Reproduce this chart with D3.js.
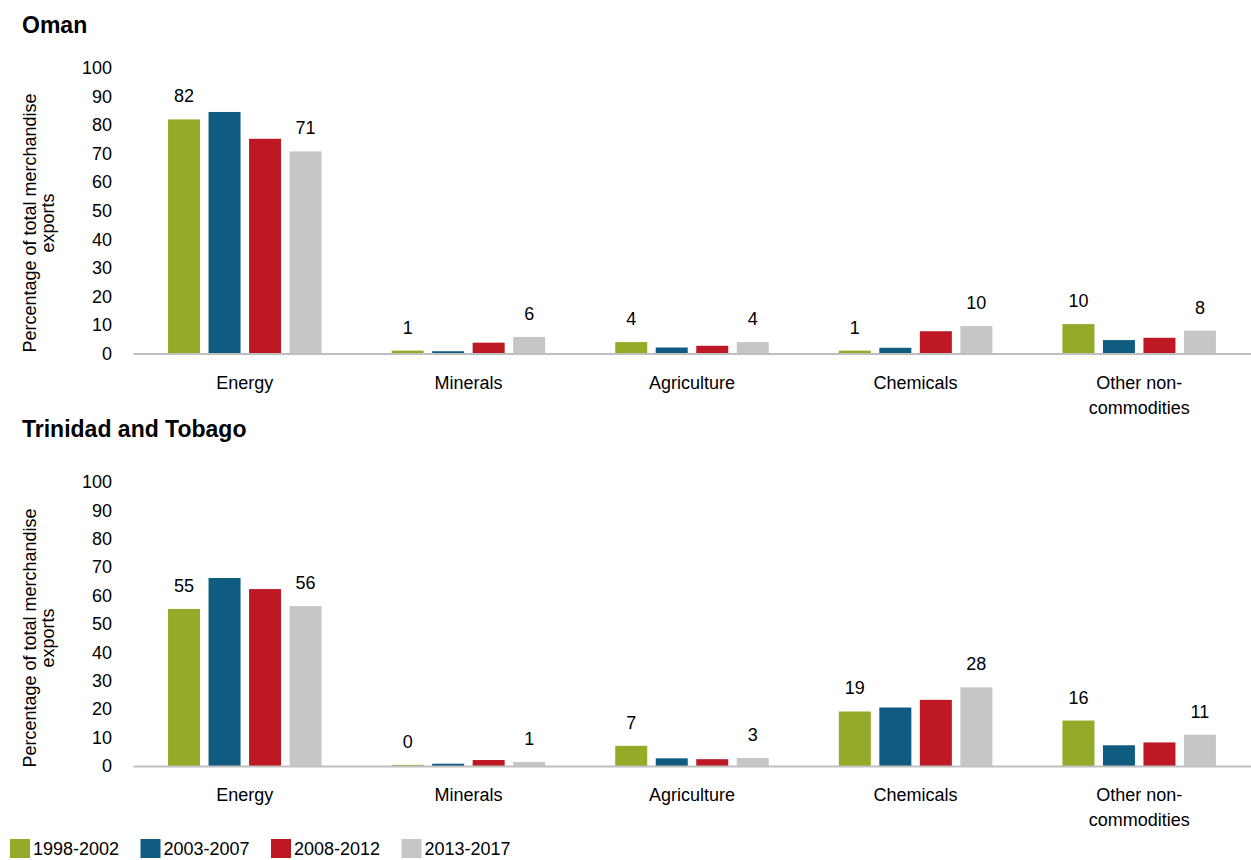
<!DOCTYPE html>
<html><head><meta charset="utf-8">
<script src="https://cdn.jsdelivr.net/npm/d3@7"></script>
<style>
body{margin:0;background:#fff;}
svg{font-family:"Liberation Sans Narrow","Arial Narrow","Liberation Sans",sans-serif;}
</style></head>
<body><svg id="c" width="1251" height="860"></svg>
<script>
const categories = ["Energy","Minerals","Agriculture","Chemicals","Other non-commodities"];
const categoryLines = [["Energy"],["Minerals"],["Agriculture"],["Chemicals"],["Other non-","commodities"]];
const series = ["1998-2002","2003-2007","2008-2012","2013-2017"];
const colors = ["#93ab28","#0f5c80","#be1824","#c6c6c6"];
const yTicks = [0,10,20,30,40,50,60,70,80,90,100];
const yTitle = ["Percentage of total merchandise","exports"];

// values per series, in category order
const omanValues = [
  [82, 1, 4, 1, 10.3],
  [84.6, 0.8, 2.1, 2, 4.7],
  [75.2, 3.8, 2.7, 7.8, 5.5],
  [70.8, 5.8, 4, 9.6, 8]
];
const omanLabels = [
  ["82","1","4","1","10"],
  null, null,
  ["71","6","4","10","8"]
];
const ttValues = [
  [55.3, 0.4, 7.1, 19.2, 16],
  [66.2, 0.8, 2.7, 20.6, 7.3],
  [62.3, 2.1, 2.4, 23.3, 8.3],
  [56.3, 1.4, 2.8, 27.7, 11]
];
const ttLabels = [
  ["55","0","7","19","16"],
  null, null,
  ["56","1","3","28","11"]
];

const panels = [
  {title:"Oman", titleY:33, top:68, bottom:353.5, yTitleC:223, values:omanValues, labels:omanLabels},
  {title:"Trinidad and Tobago", titleY:437, top:482, bottom:766, yTitleC:638, values:ttValues, labels:ttLabels}
];

const svg = d3.select("#c");
const x0 = d3.scaleBand().domain(categories).range([133,1251]).padding(0);
const x1 = d3.scaleBand().domain(series).range([0,x0.bandwidth()]).paddingInner(0.21).paddingOuter(0.865);

panels.forEach(p=>{
  const g = svg.append("g");
  const y = d3.scaleLinear().domain([0,100]).range([p.bottom,p.top]);
  g.append("text").attr("x",22).attr("y",p.titleY).attr("font-size",23).attr("font-weight","bold")
    .attr("fill","#000").text(p.title);
  // y axis labels
  const ya = g.append("g").attr("transform","translate(112,0)")
    .call(d3.axisLeft(y).tickValues(yTicks).tickSize(0).tickPadding(0));
  ya.select(".domain").remove();
  ya.selectAll("text").attr("font-size",18).attr("fill","#000").attr("font-family",null);
  // y title
  const t = g.append("text").attr("transform",`translate(36,${p.yTitleC}) rotate(-90)`)
    .attr("text-anchor","middle").attr("font-size",18).attr("fill","#000");
  yTitle.forEach((s,i)=>t.append("tspan").attr("x",0).attr("dy",i===0?0:18).text(s));
  // bars
  series.forEach((s,si)=>{
    g.append("g").selectAll("rect").data(p.values[si]).join("rect")
      .attr("x",(d,i)=>x0(categories[i])+x1(s))
      .attr("width",x1.bandwidth())
      .attr("y",d=>y(d)).attr("height",d=>y(0)-y(d))
      .attr("fill",colors[si]);
    if(p.labels[si]){
      g.append("g").selectAll("text").data(p.values[si]).join("text")
        .attr("x",(d,i)=>x0(categories[i])+x1(s)+x1.bandwidth()/2)
        .attr("y",d=>y(d)-17).attr("text-anchor","middle").attr("font-size",18).attr("fill","#000")
        .text((d,i)=>p.labels[si][i]);
    }
  });
  // x axis
  const xa = g.append("g").attr("transform",`translate(0,${p.bottom})`)
    .call(d3.axisBottom(x0).tickSize(0).tickFormat(""));
  xa.select(".domain").attr("stroke","#bfbfbf").attr("stroke-width",2);
  xa.selectAll(".tick").each(function(d,i){
    const tt = d3.select(this).select("text").attr("y",0).attr("dy",null)
      .attr("font-size",18).attr("fill","#000").attr("font-family",null);
    categoryLines[i].forEach((s,li)=>tt.append("tspan").attr("x",0).attr("y",35+li*25).text(s));
  });
});

// legend
const lg = svg.append("g");
series.forEach((s,i)=>{
  const gx = 10 + i*130.5;
  lg.append("rect").attr("x",gx).attr("y",839).attr("width",20).attr("height",19).attr("fill",colors[i]);
  lg.append("text").attr("x",gx+23).attr("y",855).attr("font-size",18).attr("fill","#000").text(s);
});
</script></body></html>
